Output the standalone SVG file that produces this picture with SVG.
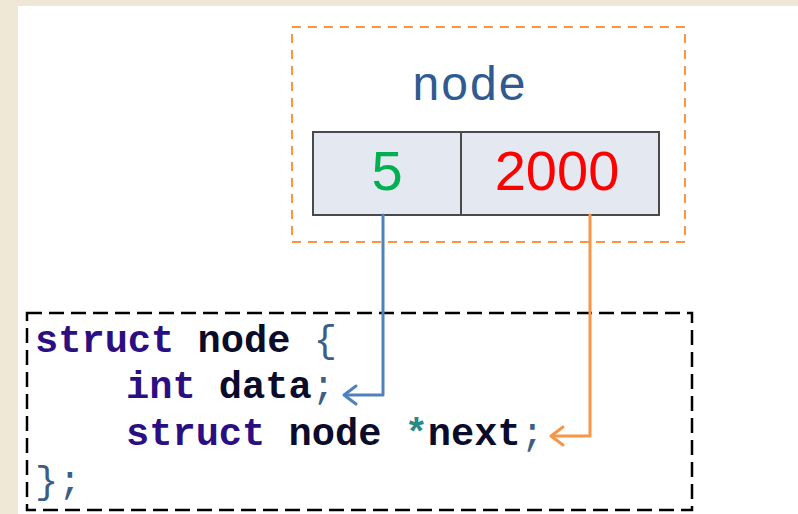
<svg xmlns="http://www.w3.org/2000/svg" width="798" height="514" viewBox="0 0 798 514">
<defs>
<style>
.code{font-family:"Liberation Mono","Courier New",monospace;font-weight:bold;font-size:38.7px;}
.kw{fill:#2B0F82;}
.id{fill:#0B0B2A;}
.pu{fill:#3C5E86;font-weight:normal;}
.st{fill:#2C8A85;}
.val{font-family:"Liberation Sans",Arial,sans-serif;font-size:56px;text-anchor:middle;}
</style>
</defs>
<rect x="0" y="0" width="798" height="514" fill="#EFE8D6"/>
<rect x="18" y="6" width="780" height="508" fill="#FFFFFF"/>
<g id="node">
<rect x="292" y="27" width="393" height="215" fill="none" stroke="#F79646" stroke-width="2" stroke-dasharray="9,7"/>
<text x="470" y="100" font-family="'Liberation Sans',Arial,sans-serif" font-size="48" fill="#2F5A92" text-anchor="middle" letter-spacing="2">node</text>
<rect x="313" y="132" width="346" height="83" fill="#E3E8F1" stroke="#4A4A4A" stroke-width="2"/>
<line x1="461" y1="132" x2="461" y2="215" stroke="#4A4A4A" stroke-width="2"/>
<text class="val" x="387" y="190" fill="#00B050">5</text>
<text class="val" x="557" y="190" fill="#FF0000">2000</text>
</g>
<g id="code">
<rect x="27" y="313" width="665" height="197" fill="none" stroke="#000" stroke-width="2.5" stroke-dasharray="15,7"/>
<text class="code" x="35" y="352"><tspan class="kw">struct</tspan><tspan class="id"> node </tspan><tspan class="pu">{</tspan></text>
<text class="code" x="126" y="398"><tspan class="kw">int</tspan><tspan class="id"> data</tspan><tspan class="pu">;</tspan></text>
<text class="code" x="126" y="445"><tspan class="kw">struct</tspan><tspan class="id"> node </tspan><tspan class="st">*</tspan><tspan class="id">next</tspan><tspan class="pu">;</tspan></text>
<text class="code" x="35" y="493"><tspan class="pu">};</tspan></text>
</g>
<g id="connectors" fill="none" stroke-width="3" stroke-linejoin="round" stroke-linecap="round">
<polyline points="383,215 383,395 345,395" stroke="#4F81BD"/>
<polyline points="356,386 344,395 356,404" stroke="#4F81BD"/>
<polyline points="590,215 590,436 552,436" stroke="#F79646"/>
<polyline points="563,427 551,436 563,445" stroke="#F79646"/>
</g>
</svg>
